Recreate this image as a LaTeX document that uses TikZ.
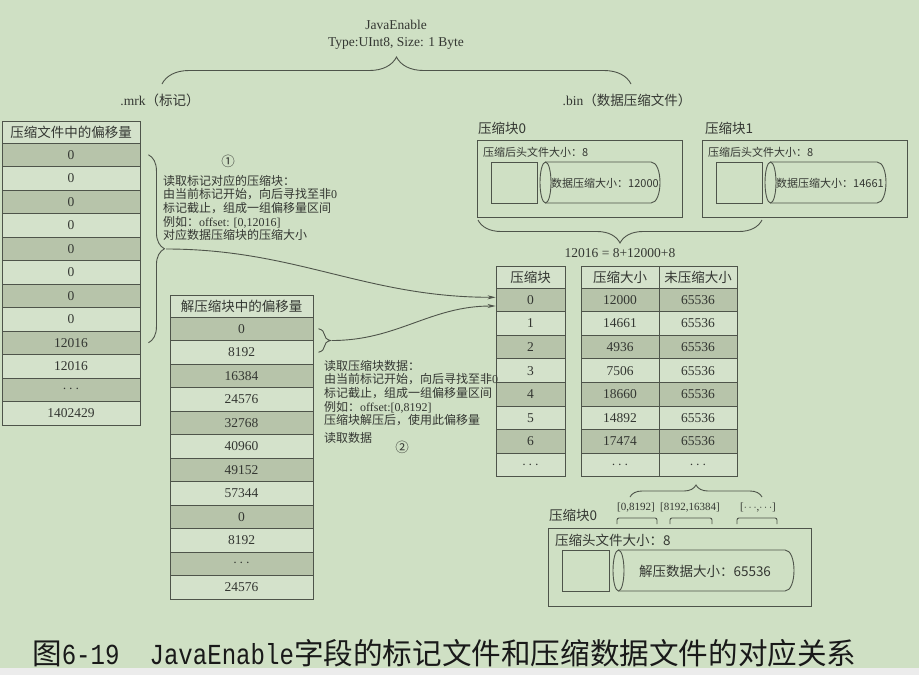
\documentclass[tikz,border=0pt]{standalone}
\usepackage{fontspec}
\setmainfont{Liberation Serif}
\newfontfamily\zh{Noto Sans CJK SC}
\newfontfamily\capmono[FakeStretch=0.83]{Liberation Mono}
\usepackage{tikz}
\usetikzlibrary{decorations.pathreplacing}
\usetikzlibrary{arrows.meta}

\definecolor{bgc}{RGB}{207,224,196}
\definecolor{darkc}{RGB}{183,196,170}
\definecolor{lightc}{RGB}{212,226,203}
\definecolor{linec}{RGB}{78,84,74}
\definecolor{txtc}{RGB}{52,55,50}
\definecolor{stripc}{RGB}{236,236,236}

\tikzset{
    cell/.style={draw=linec, fill=lightc, line width=0.9pt, minimum height=23.5pt, inner sep=0pt, text=txtc, font=\fontsize{13.5}{15}\selectfont},
    lbl/.style={inner sep=0pt, text=txtc, font=\fontsize{13.5}{17}\selectfont},
    small/.style={inner sep=0pt, text=txtc, font=\fontsize{11}{13}\selectfont},
    note/.style={inner sep=0pt, text=txtc, align=left, anchor=north west, font=\fontsize{12}{13.6}\selectfont},
    box/.style={draw=linec, line width=0.9pt, inner sep=0pt},
    brc/.style={decorate, decoration={brace, amplitude=#1}, draw=linec, line width=0.9pt},
    link/.style={draw=linec, line width=0.9pt, -{Stealth[length=8pt, width=4pt]}}
}

\begin{document}
\begin{tikzpicture}[x=1pt, y=-1pt]
    \fill[stripc] (0,0) rectangle (919,675);
    \fill[bgc] (0,0) rectangle (919,668);
    \useasboundingbox (0,0) rectangle (919,675);

    % file headings
    \node[lbl, align=center] (field) at (396,35) {JavaEnable\\Type:UInt8, Size: 1 Byte};
    \draw[brc=27] (162,84) -- (631,84);
    \node[lbl] (mrklabel) at (160,100) {.mrk{\zh（标记）}};
    \node[lbl] (binlabel) at (627,100) {.bin{\zh（数据压缩文件）}};

    % .mrk table
    \node[cell, minimum width=138pt, minimum height=22pt] (mrkhead) at (71,132) {\zh 压缩文件中的偏移量};
    \foreach \v [count=\i from 0] in {0,0,0,0,0,0,0,0,12016,12016,$\cdots$,1402429} {
        \ifodd\i \def\shade{lightc}\else \def\shade{darkc}\fi
        \node[cell, fill=\shade, minimum width=138pt] (mrk\i) at (71, {154.75+23.5*\i}) {\v};
    }

    % decompressed offsets
    \node[cell, minimum width=143pt, minimum height=22pt] (dechead) at (241.5,306) {\zh 解压缩块中的偏移量};
    \foreach \v [count=\i from 0] in {0,8192,16384,24576,32768,40960,49152,57344,0,8192,$\cdots$,24576} {
        \ifodd\i \def\shade{lightc}\else \def\shade{darkc}\fi
        \node[cell, fill=\shade, minimum width=143pt] (dec\i) at (241.5, {328.75+23.5*\i}) {\v};
    }

    % block table
    \node[cell, minimum width=69pt, minimum height=22pt] (idxhead) at (530.5,277) {\zh 压缩块};
    \node[cell, minimum width=78pt, minimum height=22pt] (cszhead) at (620,277) {\zh 压缩大小};
    \node[cell, minimum width=78pt, minimum height=22pt] (uszhead) at (698,277) {\zh 未压缩大小};
    \foreach \b/\c/\u [count=\i from 0] in {0/12000/65536, 1/14661/65536, 2/4936/65536, 3/7506/65536, 4/18660/65536, 5/14892/65536, 6/17474/65536, $\cdots$/$\cdots$/$\cdots$} {
        \ifodd\i \def\shade{lightc}\else \def\shade{darkc}\fi
        \node[cell, fill=\shade, minimum width=69pt, minimum height=23.6pt] (idx\i) at (530.5, {299.8+23.6*\i}) {\b};
        \node[cell, fill=\shade, minimum width=78pt, minimum height=23.6pt] (csz\i) at (620, {299.8+23.6*\i}) {\c};
        \node[cell, fill=\shade, minimum width=78pt, minimum height=23.6pt] (usz\i) at (698, {299.8+23.6*\i}) {\u};
    }

    % compressed blocks of .bin
    \node[lbl, anchor=west] (blk0label) at (478,128) {\zh 压缩块0};
    \node[box, minimum width=205pt, minimum height=77pt] (blk0) at (579.5,178.5) {};
    \node[small, anchor=west] (blk0head) at (483,152) {\zh 压缩后头文件大小：8};
    \node[box, minimum width=46pt, minimum height=41pt] (blk0sq) at (514,182.5) {};
    \draw[box] (545.5,162) -- (651,162) .. controls (663,162) and (663,203) .. (651,203) -- (545.5,203);
    \draw[box] (545.5,182.5) ellipse [x radius=5.5pt, y radius=20.5pt];
    \node[small] (blk0data) at (605,183) {\zh 数据压缩大小：12000};

    \node[lbl, anchor=west] (blk1label) at (705,128) {\zh 压缩块1};
    \node[box, minimum width=205pt, minimum height=77pt] (blk1) at (804.5,178.5) {};
    \node[small, anchor=west] (blk1head) at (708,152) {\zh 压缩后头文件大小：8};
    \node[box, minimum width=46pt, minimum height=41pt] (blk1sq) at (739,182.5) {};
    \draw[box] (770.5,162) -- (877,162) .. controls (889,162) and (889,203) .. (877,203) -- (770.5,203);
    \draw[box] (770.5,182.5) ellipse [x radius=5.5pt, y radius=20.5pt];
    \node[small] (blk1data) at (830,183) {\zh 数据压缩大小：14661};

    \draw[brc=23] (762,220) -- (478,220);
    \node[lbl] (sum) at (620,253) {12016 = 8+12000+8};

    % notes
    \node[lbl] (step1) at (228,161) {\zh ①};
    \node[note] (note1) at (163,175) {{\zh 读取标记对应的压缩块：}\\{\zh 由当前标记开始，向后寻找至非}0\\{\zh 标记截止，组成一组偏移量区间}\\{\zh 例如：}offset: [0,12016]\\{\zh 对应数据压缩块的压缩大小}};
    \draw[brc=16] ([xshift=8pt]mrk0.east) -- ([xshift=8pt]mrk8.east);
    \coordinate (tip1) at (166,249);
    \draw[link] (tip1) to[out=0, in=180] ([yshift=2.5pt]idx0.west);

    \draw[brc=12] ([xshift=5pt]dec0.east) -- ([xshift=5pt]dec1.east);
    \coordinate (tip2) at (332,340.5);
    \draw[link] (tip2) to[out=0, in=180] ([yshift=-6.2pt]idx0.west);
    \node[note] (note2) at (324,360) {{\zh 读取压缩块数据：}\\{\zh 由当前标记开始，向后寻找至非}0\\{\zh 标记截止，组成一组偏移量区间}\\{\zh 例如：}offset:[0,8192]\\{\zh 压缩块解压后，使用此偏移量}\\[4pt]{\zh 读取数据}};
    \node[lbl] (step2) at (402,447) {\zh ②};

    % decompressed block
    \draw[brc=12] (630,497) -- (762,497);
    \node[small] (rg0) at (636,508) {[0,8192]};
    \node[small] (rg1) at (690,508) {[8192,16384]};
    \node[small] (rg2) at (758,508) {[$\cdots$,$\cdots$]};
    \draw[box, rounded corners=2pt] (617,524) -- (617,518) -- (657,518) -- (657,524);
    \draw[box, rounded corners=2pt] (670,524) -- (670,518) -- (712,518) -- (712,524);
    \draw[box, rounded corners=2pt] (737,524) -- (737,518) -- (777,518) -- (777,524);
    \node[lbl, anchor=west] (blk2label) at (549,515) {\zh 压缩块0};
    \node[box, minimum width=263pt, minimum height=78pt] (blk2) at (679.5,567) {};
    \node[lbl, anchor=west] (blk2head) at (555,540) {\zh 压缩头文件大小：8};
    \node[box, minimum width=47pt, minimum height=41pt] (blk2sq) at (585.5,570.5) {};
    \draw[box] (618.5,550) -- (785,550) .. controls (797,550) and (797,591) .. (785,591) -- (618.5,591);
    \draw[box] (618.5,570.5) ellipse [x radius=5.5pt, y radius=20.5pt];
    \node[lbl] (blk2data) at (705,571) {\zh 解压数据大小：65536};

    % caption
    \node[anchor=west, inner sep=0pt, text=black!90, font=\fontsize{29}{32}\selectfont] (caption) at (32,653) {{\zh\fontsize{29.6}{32}\selectfont 图}{\capmono 6-19}\hspace{30pt}{\capmono JavaEnable}{\zh\fontsize{29.6}{32}\selectfont 字段的标记文件和压缩数据文件的对应关系}};
\end{tikzpicture}
\end{document}
